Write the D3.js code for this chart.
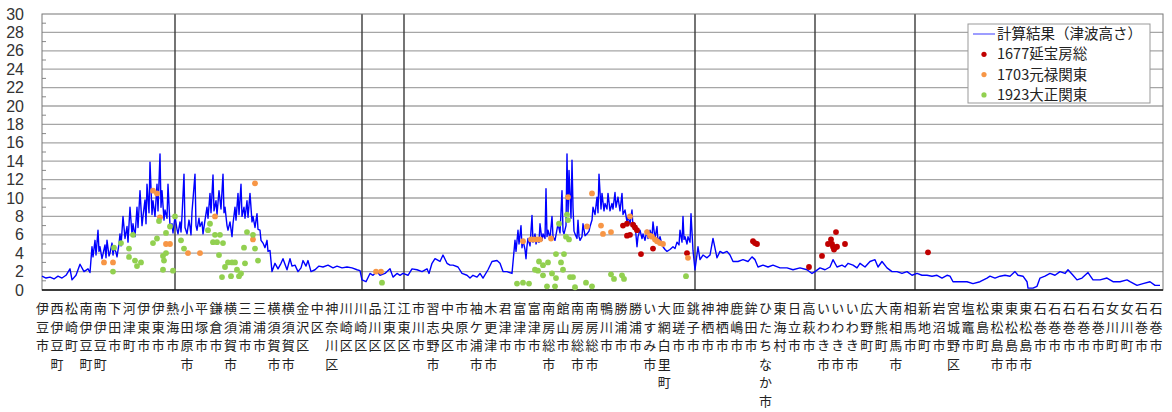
<!DOCTYPE html>
<html>
<head>
<meta charset="utf-8">
<script src="https://cdn.jsdelivr.net/npm/d3@7"></script>
<style>
  body { margin: 0; background: #fff; }
  text { font-family: "Noto Sans CJK JP", sans-serif; }
</style>
</head>
<body>
<svg width="1172" height="412"></svg>
<script>
// municipalities along the coast, south-west to north-east
const places = [
  '伊豆市','西伊豆町','松崎町','南伊豆町','南伊豆町','下田市','河津町','伊東市','伊東市','熱海市',
  '小田原市','平塚市','鎌倉市','横須賀市','三浦市','三浦市','横須賀市','横須賀市','金沢区','中区',
  '神奈川区','川崎区','川崎区','品川区','江東区','江東区','市川市','習志野市','中央区','市原市',
  '袖ケ浦市','木更津市','君津市','富津市','富津市','南房総市','館山市','南房総市','南房総市','鴨川市',
  '勝浦市','勝浦市','いすみ市','大網白里町','匝瑳市','銚子市','神栖市','神栖市','鹿嶋市','鉾田市',
  'ひたちなか市','東海村','日立市','高萩市','いわき市','いわき市','いわき市','広野町','大熊町','南相馬市',
  '相馬市','新地町','岩沼市','宮城野区','塩竈市','松島町','東松島市','東松島市','東松島市','石巻市',
  '石巻市','石巻市','石巻市','石巻市','女川町','女川町','石巻市','石巻市'
];

// prefecture borders, as coast position
const borders = [133, 320, 362, 653, 773, 873];

const yTicks = d3.range(0, 31, 2);

// computed tsunami height [coast position, m]
const computed = [
  [0,1.5],[4,1.3],[8,1.4],[12,1.2],[16,1.5],[20,1.3],[24,1.6],[28,2.3],[30,1.1],[34,1.6],
  [38,2.8],[42,2.0],[46,2.3],[48,1.9],
  [50,4.7],[51,3.6],[53,5.4],[54,3.8],[56,6.5],[57,4.2],[58,4.7],[60,3.4],[61,3.9],[63,4.9],
  [64,3.5],[65,5.4],[67,3.7],[68,4.0],[70,5.1],[71,3.8],[72,4.6],[74,4.1],[75,3.6],[77,5.0],
  [78,6.1],[79,4.8],[81,8.0],[83,5.6],[85,6.9],[86,5.2],[88,9.0],[90,6.0],[91,7.2],[93,5.8],
  [95,9.0],[96,6.8],[98,10.8],[100,7.0],[101,8.0],[103,9.8],[104,7.2],[105,11.5],[107,8.4],[108,13.9],
  [110,8.2],[111,9.7],[113,8.0],[115,11.5],[116,8.6],[118,14.8],[119,9.0],[120,10.8],[122,7.6],[123,8.7],
  [125,7.8],[126,11.5],[128,7.0],[130,7.2],[131,6.2],[133,8.0],[135,6.6],[136,6.1],[138,7.4],[139,6.3],
  [140,8.0],[142,12.6],[143,6.8],[145,6.1],[147,7.6],[148,6.9],[149,6.0],[150,8.5],[153,12.6],[154,7.0],
  [155,6.5],[157,7.8],[158,6.9],[160,7.4],[161,6.1],[163,7.6],[165,9.0],[166,7.8],[168,10.5],[169,8.4],
  [171,12.5],[172,8.6],[174,9.7],[175,8.2],[177,10.8],[179,8.8],[181,12.6],[182,8.4],[183,9.0],[185,7.0],
  [186,6.5],[188,7.4],[190,5.8],[191,7.2],[193,9.0],[194,7.6],[196,10.5],[197,8.2],[199,11.5],[200,8.0],
  [202,9.0],[203,7.8],[205,9.7],[206,7.9],[208,10.5],[210,7.4],[211,8.0],[213,6.8],[215,8.3],[216,6.6],
  [218,6.5],[219,5.4],[221,5.1],[223,4.6],[225,5.4],[226,4.2],[228,4.3],
  [230,2.0],[233,2.9],[236,2.3],[239,2.9],[241,3.4],[245,2.2],[248,3.4],[250,2.6],
  [253,2.7],[256,2.0],[259,2.4],[261,3.2],[264,2.6],[266,3.2],[269,2.0],[273,2.2],[277,2.6],[281,2.5],
  [286,2.7],[291,2.4],[295,2.6],[300,2.4],[305,2.5],[310,2.4],[315,2.2],[318,2.1],[320,1.1],[324,0.9],
  [328,1.8],[331,1.6],[335,2.0],[338,1.6],[343,1.8],[348,2.3],[351,1.4],[355,1.8],[358,1.6],[361,1.8],
  [366,1.6],[370,2.3],[375,2.2],[380,2.0],[385,2.3],[387,1.8],[390,2.9],[393,3.4],[398,3.1],[401,3.8],
  [405,2.9],[408,2.7],[411,2.7],[416,2.5],[420,1.8],[425,1.6],[428,1.3],[431,1.6],[435,1.4],[438,1.8],
  [441,1.3],[446,2.2],[450,3.1],[455,3.2],[458,2.9],[461,2.0],[465,2.0],[470,1.8],
  [473,5.4],[474,4.2],[476,6.5],[477,5.0],[479,7.0],[480,4.6],[481,5.4],[483,4.4],[484,3.4],[485,4.8],
  [486,5.6],[488,4.8],[490,8.1],[491,5.2],[493,6.1],[494,5.0],[495,5.4],[497,5.2],[498,7.2],[500,5.4],
  [501,6.1],[503,5.6],[504,11.0],[505,5.8],[506,6.5],[508,5.6],[510,8.0],[511,5.8],[513,5.4],[514,6.0],
  [516,7.2],[518,6.2],[520,10.8],[521,6.4],[522,6.1],[524,7.0],[525,14.8],[526,8.0],[527,13.0],[529,7.8],
  [530,14.1],[531,9.0],[532,6.4],[533,6.1],[535,5.6],[536,7.6],[537,5.8],[538,5.4],[540,5.8],[541,7.2],
  [543,5.9],[545,6.1],[547,6.4],[548,6.9],[550,7.6],[551,9.0],[553,8.2],[555,10.1],[556,8.4],[557,12.6],
  [559,8.8],[560,10.5],[562,8.6],[563,9.4],[565,8.8],[566,10.5],[568,8.6],[570,9.4],[571,8.8],[573,10.6],
  [574,9.0],[576,10.1],[578,8.6],[580,10.5],[581,8.2],[583,8.7],[585,7.4],[586,8.0],[588,7.2],[590,8.7],
  [591,6.8],[593,7.2],[595,4.7],[596,5.8],[598,6.5],[600,5.6],[601,6.1],[603,5.4],[605,6.5],[606,5.6],
  [608,6.5],[610,5.8],[611,7.4],[613,5.6],[615,6.9],[616,5.2],[618,5.8],[620,4.9],[621,4.7],[623,4.4],
  [625,4.2],[628,4.4],[631,4.7],[633,4.5],[635,5.2],[637,4.9],[638,6.5],[640,5.2],[641,8.0],[642,5.5],
  [643,5.8],[645,5.0],[646,5.8],[648,5.2],[649,8.3],[651,4.3],[653,2.2],
  [656,4.7],[658,3.3],[661,3.8],[665,3.5],[668,3.8],[671,5.6],[675,3.5],[678,4.2],[681,4.0],[685,4.2],
  [688,3.8],[691,3.1],[696,3.1],[701,3.3],[706,3.1],[710,3.6],[713,3.3],[716,2.5],[721,2.7],[726,2.5],
  [731,2.7],[738,2.4],[745,2.4],[751,2.2],[758,2.4],[765,2.2],[770,1.8],[773,2.0],[778,2.4],[783,2.2],
  [788,2.5],[791,3.3],[795,2.5],[800,2.7],[803,2.5],[806,2.9],[811,2.7],[815,2.4],[818,2.9],[823,2.5],
  [828,3.1],[833,3.3],[836,2.5],[840,3.1],[845,2.4],[850,2.0],[855,2.0],[860,1.8],[865,2.0],[870,1.6],
  [875,1.8],[880,1.6],[885,1.6],[890,1.5],[895,1.6],[900,1.3],[905,1.6],[908,1.5],[911,0.9],[918,0.9],
  [925,0.9],[931,0.7],[938,0.9],[945,1.3],[948,1.5],[953,1.3],[958,1.5],[963,1.6],[968,1.5],[973,2.0],
  [976,1.6],[981,1.5],[985,0.9],[986,0.2],[991,0.2],[995,0.4],[998,1.3],[1003,1.5],[1008,1.8],[1013,1.6],
  [1018,2.0],[1023,1.8],[1026,2.2],[1031,1.6],[1035,1.1],[1040,1.3],[1046,1.9],[1051,1.1],[1058,1.1],[1065,1.3],
  [1071,0.9],[1078,0.9],[1085,1.1],[1088,0.9],[1095,0.5],[1101,0.7],[1108,0.9],[1113,0.5],[1118,0.5]
];

// historical traces [coast position, m]
const enpo1677 = [
  [581,7.0],[585,7.2],[591,7.1],[593,6.8],[595,6.5],[585,5.9],[588,6.0],[599,3.9],[611,4.5],[645,4.0],
  [711,5.3],[713,5.1],[715,5.0],[767,2.5],[780,3.7],[786,5.0],[789,5.5],[790,5.0],[791,4.7],[793,4.6],
  [795,4.7],[792,4.4],[794,6.3],[803,5.0],[886,4.1]
];
const genroku1703 = [
  [62,3.0],[71,3.0],[111,10.8],[115,10.5],[118,7.9],[124,5.0],[128,5.0],[146,4.0],[158,4.0],[173,8.0],
  [211,5.5],[213,11.6],[334,2.0],[339,2.0],[481,5.3],[489,5.5],[492,5.5],[495,5.5],[498,5.5],[509,5.6],
  [526,10.1],[545,6.9],[550,10.5],[559,7.0],[561,6.1],[569,6.3],[588,8.0],[605,6.3],[608,5.9],[610,5.8],
  [613,5.5],[615,5.3],[618,5.1],[621,5.0],[646,3.5]
];
const taisho1923 = [
  [71,2.0],[72,4.6],[79,5.1],[87,4.5],[87,3.6],[91,6.0],[93,3.2],[95,2.6],[99,3.0],[111,5.1],
  [115,5.6],[117,7.5],[121,3.7],[122,3.2],[124,4.0],[121,2.2],[124,6.2],[128,6.9],[131,2.1],[133,8.0],
  [139,5.4],[142,4.5],[166,6.5],[168,7.2],[171,5.2],[173,6.0],[175,5.2],[178,6.0],[177,3.8],[181,5.1],
  [183,2.5],[180,1.4],[186,3.0],[190,3.0],[193,3.0],[189,1.5],[195,2.2],[197,1.5],[199,1.8],[203,2.9],
  [202,4.6],[205,6.3],[211,6.0],[213,4.5],[216,3.2],
  [340,0.8],[475,0.7],[481,0.8],[487,0.7],[493,2.2],[497,3.1],[501,2.7],[506,3.0],[496,2.1],[501,1.6],
  [510,1.8],[514,1.3],[519,3.0],[521,2.2],[514,3.9],[522,3.9],[528,1.4],[531,1.4],[505,0.4],[513,0.4],
  [533,0.3],[544,0.8],[550,0.4],[517,7.2],[525,8.2],[526,7.6],[524,5.8],[527,5.5],[569,1.7],[572,1.2],
  [580,1.6],[582,1.2],[644,1.5]
];

const legendItems = [
  { label: '計算結果（津波高さ）', type: 'line', color: '#5b5bff' },
  { label: '1677延宝房総', type: 'dot', color: '#c00000' },
  { label: '1703元禄関東', type: 'dot', color: '#f79646' },
  { label: '1923大正関東', type: 'dot', color: '#92d050' }
];

const svg = d3.select('svg');
const plotLeft = 42, plotRight = 1163, plotTop = 14, plotBottom = 290;

const x = d3.scaleLinear().domain([0, 1121]).range([plotLeft, plotRight]);
const y = d3.scaleLinear().domain([0, 30]).range([plotBottom, plotTop]);
const labelX = d3.scalePoint().domain(d3.range(places.length)).range([42.5, 1156]);

// horizontal grid
svg.append('g').selectAll('line').data(yTicks.filter(d => d > 0 && d < 30))
  .enter().append('line')
    .attr('x1', plotLeft).attr('x2', plotRight)
    .attr('y1', d => y(d)).attr('y2', d => y(d))
    .attr('stroke', '#a6a6a6').attr('stroke-width', 1.3);

// minor ticks on the value axis
svg.append('g').selectAll('line').data(d3.range(1, 30, 2))
  .enter().append('line')
    .attr('x1', plotLeft).attr('x2', plotLeft + 4)
    .attr('y1', d => y(d)).attr('y2', d => y(d))
    .attr('stroke', '#888').attr('stroke-width', 1);

// prefecture borders
svg.append('g').selectAll('line').data(borders)
  .enter().append('line')
    .attr('x1', d => x(d)).attr('x2', d => x(d))
    .attr('y1', plotTop).attr('y2', plotBottom)
    .attr('stroke', '#3a3a3a').attr('stroke-width', 1.4);

// plot frame
svg.append('rect')
  .attr('x', plotLeft).attr('y', plotTop)
  .attr('width', plotRight - plotLeft).attr('height', plotBottom - plotTop)
  .attr('fill', 'none').attr('stroke', '#777').attr('stroke-width', 1);
svg.append('line')
  .attr('x1', plotLeft).attr('x2', plotRight).attr('y1', plotBottom).attr('y2', plotBottom)
  .attr('stroke', '#111').attr('stroke-width', 1.5);

// value axis labels
const yAxis = svg.append('g')
  .attr('transform', `translate(${plotLeft},0)`)
  .call(d3.axisLeft(y).tickValues(yTicks).tickSize(0).tickPadding(18));
yAxis.select('.domain').remove();
yAxis.selectAll('text')
  .attr('font-size', 16)
  .attr('fill', '#333')
  .style('font-family', '"Liberation Sans Narrow", "Liberation Sans", sans-serif');

// computed height line
const line = d3.line().x(d => x(d[0])).y(d => y(d[1]));
svg.append('path')
  .datum(computed)
  .attr('d', line)
  .attr('fill', 'none')
  .attr('stroke', '#0000ff')
  .attr('stroke-width', 1.4)
  .attr('stroke-linejoin', 'round');

// historical traces
const drawDots = (data, color) => {
  svg.append('g').selectAll('circle').data(data)
    .enter().append('circle')
      .attr('cx', d => x(d[0]))
      .attr('cy', d => y(d[1]))
      .attr('r', 2.9)
      .attr('fill', color);
};
drawDots(enpo1677, '#c00000');
drawDots(genroku1703, '#f79646');
drawDots(taisho1923, '#92d050');

// place names, written top to bottom
const names = svg.append('g').selectAll('g').data(places)
  .enter().append('g')
    .attr('transform', (d, i) => `translate(${labelX(i)},0)`);
names.selectAll('text').data(d => Array.from(d))
  .enter().append('text')
    .attr('y', (d, k) => 313 + k * 18.6)
    .attr('text-anchor', 'middle')
    .attr('font-size', 13)
    .attr('fill', '#222')
    .text(d => d);

// legend
const legend = svg.append('g').attr('transform', 'translate(968,24)');
legend.append('rect')
  .attr('width', 182).attr('height', 79)
  .attr('fill', '#fff').attr('stroke', '#999').attr('stroke-width', 1);
const rows = legend.selectAll('g.row').data(legendItems)
  .enter().append('g')
    .attr('class', 'row')
    .attr('transform', (d, i) => `translate(0,${10 + i * 20.3})`);
rows.filter(d => d.type === 'line').append('line')
  .attr('x1', 5).attr('x2', 27)
  .attr('stroke', d => d.color).attr('stroke-width', 1.2);
rows.filter(d => d.type === 'dot').append('circle')
  .attr('cx', 16).attr('r', 2.6)
  .attr('fill', d => d.color);
rows.append('text')
  .attr('x', 29).attr('y', 5)
  .attr('font-size', 14.5)
  .attr('fill', '#222')
  .text(d => d.label);
</script>
</body>
</html>
